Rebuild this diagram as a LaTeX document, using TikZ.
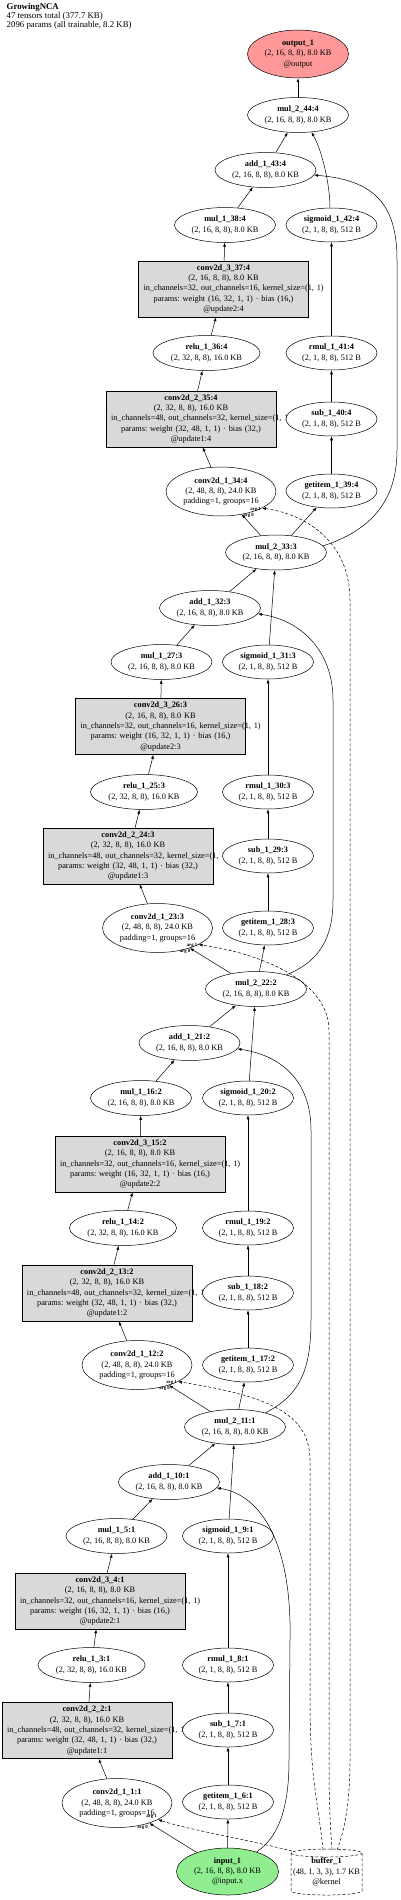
\documentclass[tikz,border=0pt]{standalone}
\usepackage{fontspec}
\setmainfont{Liberation Serif}
\usetikzlibrary{shapes.geometric,arrows.meta}
\definecolor{boxgray}{HTML}{D9D9D9}
\definecolor{outred}{HTML}{FF9999}
\definecolor{ingreen}{HTML}{90EE90}
\frenchspacing
\newcommand{\txS}{(2, 16, 8, 8), 8.0 KB}
\newcommand{\txO}{(2, 1, 8, 8), 512 B}
\newcommand{\txT}{(2, 32, 8, 8), 16.0 KB}
\newcommand{\txF}{(2, 48, 8, 8), 24.0 KB}
\newcommand{\cvbtext}[2]{\textbf{#1}\\\txT\\\mbox{in\_channels=48, out\_channels=32, kernel\_size=(1, 1)}\\params: weight (32, 48, 1, 1) · bias (32,)\\#2}
\newcommand{\cvctext}[2]{\textbf{#1}\\\txS\\\mbox{in\_channels=32, out\_channels=16, kernel\_size=(1, 1)}\\params: weight (16, 32, 1, 1) · bias (16,)\\#2}
\newcommand{\cvatext}[1]{\textbf{#1}\\\txF\\padding=1, groups=16}
\begin{document}
\begin{tikzpicture}[x=1pt,y=-1pt,
 lbl/.style={font=\fontsize{8.3}{10.4}\selectfont, align=center, inner sep=0pt},
 ten/.style={lbl, draw, ellipse, fill=white, line width=0.5pt, minimum width=101pt, minimum height=35pt},
 sml/.style={ten, minimum width=91pt, minimum height=34pt},
 rel/.style={ten, minimum width=107pt},
 cva/.style={ten, minimum width=110pt, minimum height=49pt},
 cvb/.style={lbl, draw, rectangle, fill=boxgray, line width=0.5pt, text width=160pt, inner xsep=5pt, inner ysep=0pt, minimum height=56pt},
 conn/.style={line width=0.5pt, -{Latex[length=4pt,width=3pt]}},
 dconn/.style={conn, dash pattern=on 3pt off 2pt},
 arglbl/.style={font=\fontsize{4.8}{5}\selectfont\bfseries, inner sep=0pt}
]
\useasboundingbox (0,0) rectangle (400,1900);

\node[anchor=north west, align=left, inner sep=0pt, font=\fontsize{8.8}{7.8}\selectfont] (hdr) at (6.5,3) {\textbf{GrowingNCA}\\47 tensors total (377.7 KB)\\2096 params (all trainable, 8.2 KB)};

% ---------- block 4 ----------
\node[ten, fill=outred, minimum height=48pt] (out) at (298,54) {\textbf{output\_1}\\\txS\\@output};
\node[ten] (mulb4) at (298,115) {\textbf{mul\_2\_44:4}\\\txS};
\node[ten] (add4) at (265.5,170) {\textbf{add\_1\_43:4}\\\txS};
\node[ten] (mula4) at (225,225) {\textbf{mul\_1\_38:4}\\\txS};
\node[cvb] (convc4) at (223.5,289) {\cvctext{conv2d\_3\_37:4}{@update2:4}};
\node[rel] (relu4) at (206.5,353) {\textbf{relu\_1\_36:4}\\\txT};
\node[cvb] (convb4) at (191,419) {\cvbtext{conv2d\_2\_35:4}{@update1:4}};
\node[cva] (conva4) at (221,491.5) {\cvatext{conv2d\_1\_34:4}};
\node[sml] (sig4) at (331.5,225) {\textbf{sigmoid\_1\_42:4}\\\txO};
\node[sml] (rmul4) at (331.5,353) {\textbf{rmul\_1\_41:4}\\\txO};
\node[sml] (sub4) at (331.5,419) {\textbf{sub\_1\_40:4}\\\txO};
\node[sml] (get4) at (331.5,491) {\textbf{getitem\_1\_39:4}\\\txO};
\node[ten] (mulb3) at (276,552.5) {\textbf{mul\_2\_33:3}\\\txS};

% ---------- block 3 ----------
\node[ten] (add3) at (210,608) {\textbf{add\_1\_32:3}\\\txS};
\node[ten] (mula3) at (161.5,662) {\textbf{mul\_1\_27:3}\\\txS};
\node[cvb] (convc3) at (160.5,726.5) {\cvctext{conv2d\_3\_26:3}{@update2:3}};
\node[rel] (relu3) at (144,792) {\textbf{relu\_1\_25:3}\\\txT};
\node[cvb] (convb3) at (128,856) {\cvbtext{conv2d\_2\_24:3}{@update1:3}};
\node[cva] (conva3) at (157.5,928) {\cvatext{conv2d\_1\_23:3}};
\node[sml] (sig3) at (268,662) {\textbf{sigmoid\_1\_31:3}\\\txO};
\node[sml] (rmul3) at (268,792) {\textbf{rmul\_1\_30:3}\\\txO};
\node[sml] (sub3) at (268,856) {\textbf{sub\_1\_29:3}\\\txO};
\node[sml] (get3) at (268,928) {\textbf{getitem\_1\_28:3}\\\txO};
\node[ten] (mulb2) at (256,989) {\textbf{mul\_2\_22:2}\\\txS};

% ---------- block 2 ----------
\node[ten] (add2) at (189.5,1043) {\textbf{add\_1\_21:2}\\\txS};
\node[ten] (mula2) at (141,1098) {\textbf{mul\_1\_16:2}\\\txS};
\node[cvb] (convc2) at (140,1164) {\cvctext{conv2d\_3\_15:2}{@update2:2}};
\node[rel] (relu2) at (123,1228) {\textbf{relu\_1\_14:2}\\\txT};
\node[cvb] (convb2) at (107,1293) {\cvbtext{conv2d\_2\_13:2}{@update1:2}};
\node[cva] (conva2) at (137,1365) {\cvatext{conv2d\_1\_12:2}};
\node[sml] (sig2) at (248,1098) {\textbf{sigmoid\_1\_20:2}\\\txO};
\node[sml] (rmul2) at (248,1228) {\textbf{rmul\_1\_19:2}\\\txO};
\node[sml] (sub2) at (248,1293) {\textbf{sub\_1\_18:2}\\\txO};
\node[sml] (get2) at (248,1365) {\textbf{getitem\_1\_17:2}\\\txO};
\node[ten] (mulb1) at (235,1427) {\textbf{mul\_2\_11:1}\\\txS};

% ---------- block 1 ----------
\node[ten] (add1) at (169,1482) {\textbf{add\_1\_10:1}\\\txS};
\node[ten] (mula1) at (116.5,1536) {\textbf{mul\_1\_5:1}\\\txS};
\node[cvb] (convc1) at (100,1601) {\cvctext{conv2d\_3\_4:1}{@update2:1}};
\node[rel] (relu1) at (91.5,1665) {\textbf{relu\_1\_3:1}\\\txT};
\node[cvb] (convb1) at (87,1730.5) {\cvbtext{conv2d\_2\_2:1}{@update1:1}};
\node[cva] (conva1) at (117,1803) {\cvatext{conv2d\_1\_1:1}};
\node[sml] (sig1) at (228,1536) {\textbf{sigmoid\_1\_9:1}\\\txO};
\node[sml] (rmul1) at (228,1665) {\textbf{rmul\_1\_8:1}\\\txO};
\node[sml] (sub1) at (228,1730) {\textbf{sub\_1\_7:1}\\\txO};
\node[sml] (get1) at (228,1802) {\textbf{getitem\_1\_6:1}\\\txO};
\node[ten, fill=ingreen, minimum width=102pt, minimum height=47pt] (inp) at (227.5,1871.5) {\textbf{input\_1}\\\txS\\@input.x};

% buffer cylinder
\draw[line width=0.5pt, fill=white, dash pattern=on 3pt off 2pt] (291,1853) -- (291,1891) arc[start angle=180,end angle=360,x radius=35.5pt,y radius=4pt] -- (362,1853) arc[start angle=0,end angle=180,x radius=35.5pt,y radius=4pt] -- cycle;
\draw[line width=0.5pt, dash pattern=on 3pt off 2pt] (291,1853) arc[start angle=180,end angle=360,x radius=35.5pt,y radius=4pt];
\node[lbl] (buf) at (326.5,1872) {\textbf{buffer\_1}\\(48, 1, 3, 3), 1.7 KB\\@kernel};
\coordinate (bufA) at (292,1851);
\coordinate (bufB) at (323,1850);
\coordinate (bufC) at (332,1850);
\coordinate (bufD) at (337,1850);

% ---------- straight edges ----------
\foreach \k/\p in {1/inp,2/mulb1,3/mulb2,4/mulb3}{
  \draw[conn] (\p) -- (conva\k);
  \draw[conn] (\p) -- (get\k);
  \draw[conn] (conva\k) -- (convb\k);
  \draw[conn] (convb\k) -- (relu\k);
  \draw[conn] (relu\k) -- (convc\k);
  \draw[conn] (convc\k) -- (mula\k);
  \draw[conn] (mula\k) -- (add\k);
  \draw[conn] (add\k) -- (mulb\k);
  \draw[conn] (get\k) -- (sub\k);
  \draw[conn] (sub\k) -- (rmul\k);
  \draw[conn] (rmul\k) -- (sig\k);
}
\foreach \k in {1,2,3}{ \draw[conn] (sig\k) -- (mulb\k); }
\draw[conn] (sig4.95) .. controls (330,185) and (322,150) .. (mulb4.-52);
\draw[conn] (mulb4) -- (out);

% ---------- long skip edges ----------
\draw[conn] (inp.34) .. controls (282,1835) and (289,1800) .. (289,1760) -- (290,1640) .. controls (292,1545) and (262,1495) .. (add1.-7);
\draw[conn] (mulb1.25) .. controls (300,1395) and (311,1370) .. (311,1320) -- (311,1130) .. controls (311,1080) and (280,1055) .. (add2.-7);
\draw[conn] (mulb2.25) .. controls (318,962) and (333,940) .. (333,900) -- (333,700) .. controls (333,650) and (300,620) .. (add3.-7);
\draw[conn] (mulb3.8) .. controls (372,530) and (397,500) .. (397,450) -- (397,260) .. controls (397,205) and (375,180) .. (add4.-6);

% ---------- dashed kernel edges ----------
\draw[dconn] (bufA) .. controls (240,1838) and (190,1830) .. (conva1.-22);
\draw[dconn] (bufB) .. controls (318,1800) and (310,1780) .. (310,1700) -- (310,1460) .. controls (310,1410) and (260,1395) .. (conva2.-22);
\draw[dconn] (bufC) .. controls (330,1820) and (329,1800) .. (329,1760) -- (329,1030) .. controls (329,985) and (270,955) .. (conva3.-22);
\draw[dconn] (bufD) .. controls (345,1830) and (350,1800) .. (350,1760) -- (350,600) .. controls (350,545) and (310,515) .. (conva4.-22);

% ---------- arg labels ----------
\node[arglbl, anchor=east] (a1b1) at ([xshift=-1pt,yshift=3pt]conva1.-22) {arg 1};
\node[arglbl, anchor=east] (a0b1) at (148,1827) {arg 0};
\foreach \k in {2,3,4}{
  \node[arglbl, anchor=east] (a1b\k) at ([xshift=-1pt,yshift=-1pt]conva\k.-22) {arg 1};
  \node[arglbl, anchor=east] (a0b\k) at ([xshift=-8pt,yshift=-7pt]conva\k.-22) {arg 0};
}
\end{tikzpicture}
\end{document}
